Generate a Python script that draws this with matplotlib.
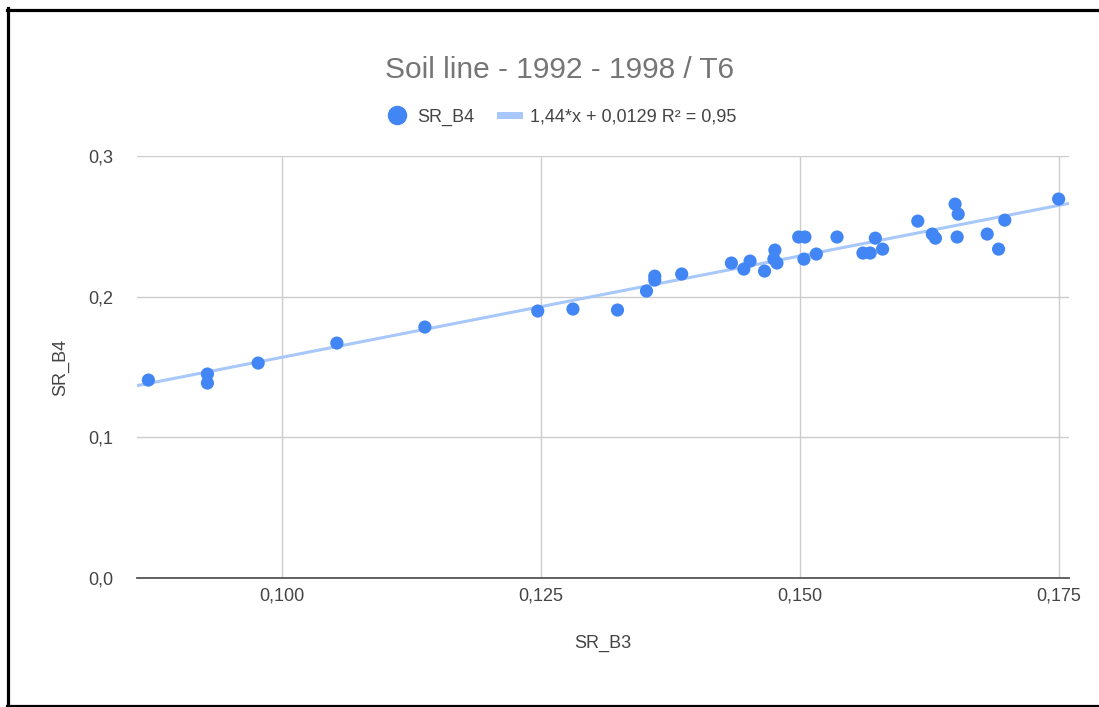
import numpy as np
import matplotlib
matplotlib.use("Agg")
import matplotlib.pyplot as plt
from matplotlib.lines import Line2D

plt.rcParams['font.family'] = ['Liberation Sans', 'DejaVu Sans']

# data (SR_B3 vs SR_B4)
sr_b3 = [0.0871, 0.0928, 0.0928, 0.0977, 0.1053, 0.1138, 0.1247, 0.1281, 0.1324,
         0.1352, 0.1360, 0.1360, 0.1386, 0.1434, 0.1446, 0.1452, 0.1466, 0.1476,
         0.1475, 0.1478, 0.1499, 0.1505, 0.1504, 0.1516, 0.1536, 0.1561, 0.1568,
         0.1573, 0.1580, 0.1614, 0.1628, 0.1631, 0.1650, 0.1653, 0.1652, 0.1681,
         0.1692, 0.1698, 0.1750]
sr_b4 = [0.1407, 0.1450, 0.1386, 0.1528, 0.1670, 0.1784, 0.1898, 0.1912, 0.1905,
         0.2040, 0.2146, 0.2118, 0.2161, 0.2239, 0.2196, 0.2253, 0.2182, 0.2331,
         0.2267, 0.2239, 0.2424, 0.2424, 0.2267, 0.2303, 0.2424, 0.2310, 0.2310,
         0.2416, 0.2338, 0.2537, 0.2445, 0.2416, 0.2658, 0.2587, 0.2424, 0.2445,
         0.2338, 0.2544, 0.2694]

# trendline from the legend
slope = 1.44
intercept = 0.0129
trend_label = "1,44*x + 0,0129 R² = 0,95"

x_ticks = [0.100, 0.125, 0.150, 0.175]
x_tick_labels = ["0,100", "0,125", "0,150", "0,175"]
y_ticks = [0.0, 0.1, 0.2, 0.3]
y_tick_labels = ["0,0", "0,1", "0,2", "0,3"]

BLUE = "#4285F4"
LIGHT_BLUE = "#A8C7FA"
TEXT = "#444444"
FS = 13

fig = plt.figure(figsize=(10.99, 7.07), dpi=100)
ax = fig.add_axes([137 / 1099, 129 / 707, 932 / 1099, 422 / 707])

x_min, x_max = 0.086, 0.176
ax.set_xlim(x_min, x_max)
ax.set_ylim(0.0, 0.3)

tx = np.array([x_min, x_max])
ax.plot(tx, slope * tx + intercept, color=LIGHT_BLUE, lw=2.2, zorder=2,
        solid_capstyle='butt')
ax.scatter(sr_b3, sr_b4, s=90, color=BLUE, edgecolors='none', zorder=3)

ax.set_xticks(x_ticks)
ax.set_xticklabels(x_tick_labels)
ax.set_yticks(y_ticks)
ax.set_yticklabels(y_tick_labels)
ax.tick_params(length=0, labelsize=FS, labelcolor=TEXT)
ax.tick_params(axis='x', pad=7)
ax.tick_params(axis='y', pad=17)
ax.grid(True, color="#CCCCCC", lw=1)
ax.set_axisbelow(True)
for side in ['top', 'right', 'left']:
    ax.spines[side].set_visible(False)
ax.spines['bottom'].set_color("#555555")
ax.spines['bottom'].set_linewidth(1.3)

ax.set_xlabel("SR_B3", fontsize=FS, color=TEXT, labelpad=22)
ax.set_ylabel("SR_B4", fontsize=FS, color=TEXT, labelpad=14)

fig.text(560 / 1099, 1 - 70 / 707, "Soil line - 1992 - 1998 / T6", ha='center',
         va='center', fontsize=21.5, color="#757575")

handles = [Line2D([], [], marker='o', ls='none', color=BLUE, markersize=13),
           Line2D([], [], color=LIGHT_BLUE, lw=5)]
fig.legend(handles, ["SR_B4", trend_label], loc='center',
           bbox_to_anchor=(562 / 1099, 1 - 117 / 707), ncol=2, frameon=False,
           fontsize=FS, labelcolor=TEXT, handlelength=1.05, handletextpad=0.6,
           columnspacing=1.4)

# black frame on top, left and bottom
for xs, ys in [([7, 1099], [9.5, 9.5]), ([7.5, 7.5], [8, 707]), ([7, 1099], [705.5, 705.5])]:
    fig.add_artist(Line2D([x / 1099 for x in xs], [1 - y / 707 for y in ys],
                          color='black', lw=2.3, transform=fig.transFigure))

fig.savefig("out.png", dpi=100)
